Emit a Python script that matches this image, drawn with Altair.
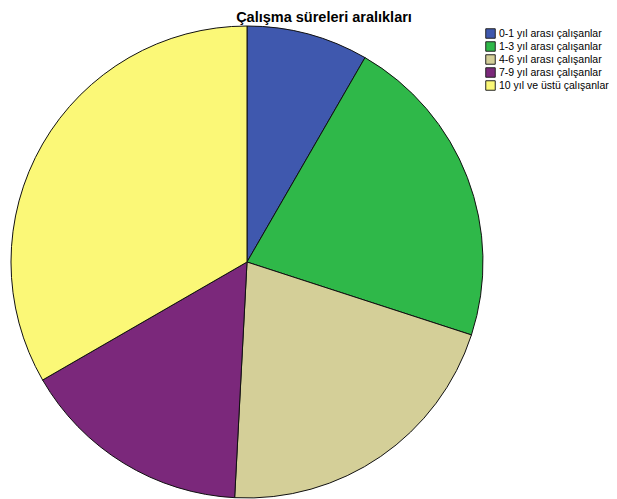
import altair as alt
import pandas as pd

categories = ["0-1 yıl arası çalışanlar", "1-3 yıl arası çalışanlar", "4-6 yıl arası çalışanlar",
              "7-9 yıl arası çalışanlar", "10 yıl ve üstü çalışanlar"]
counts = [10, 26, 25, 19, 40]
colors = ["#3F58AE", "#2FB849", "#D4CF98", "#7B287B", "#FBF877"]

df = pd.DataFrame({"kategori": categories, "sayi": counts, "sira": list(range(len(categories)))})

pie = alt.Chart(df).mark_arc(outerRadius=236, stroke="#111111", strokeWidth=1).encode(
    theta=alt.Theta("sayi:Q", stack=True),
    order=alt.Order("sira:Q"),
    x=alt.value(239),
    y=alt.value(254),
    color=alt.Color("kategori:N", sort=categories,
                    scale=alt.Scale(domain=categories, range=colors),
                    legend=alt.Legend(title=None, orient="none", legendX=477, legendY=20,
                                      symbolType="square", symbolSize=90,
                                      symbolStrokeColor="#222222", symbolStrokeWidth=1,
                                      labelFontSize=10.5, labelFont="Liberation Sans",
                                      labelColor="#000000", rowPadding=-6, labelOffset=3,
                                      labelLimit=200, symbolOpacity=1)),
)

title = alt.Chart(pd.DataFrame({"t": ["Çalışma süreleri aralıkları"]})).mark_text(
    font="Liberation Sans", fontSize=14.5, fontWeight="bold", color="#000000",
    align="center", baseline="alphabetic"
).encode(text="t:N", x=alt.value(316), y=alt.value(13.5))

chart = alt.layer(pie, title).properties(
    width=601, height=491, autosize=alt.AutoSizeParams(type="none"), padding=0
).configure(background="#ffffff", view=alt.ViewConfig(stroke=None))

chart.save("out.html", embed_options={"renderer": "svg", "actions": False})
